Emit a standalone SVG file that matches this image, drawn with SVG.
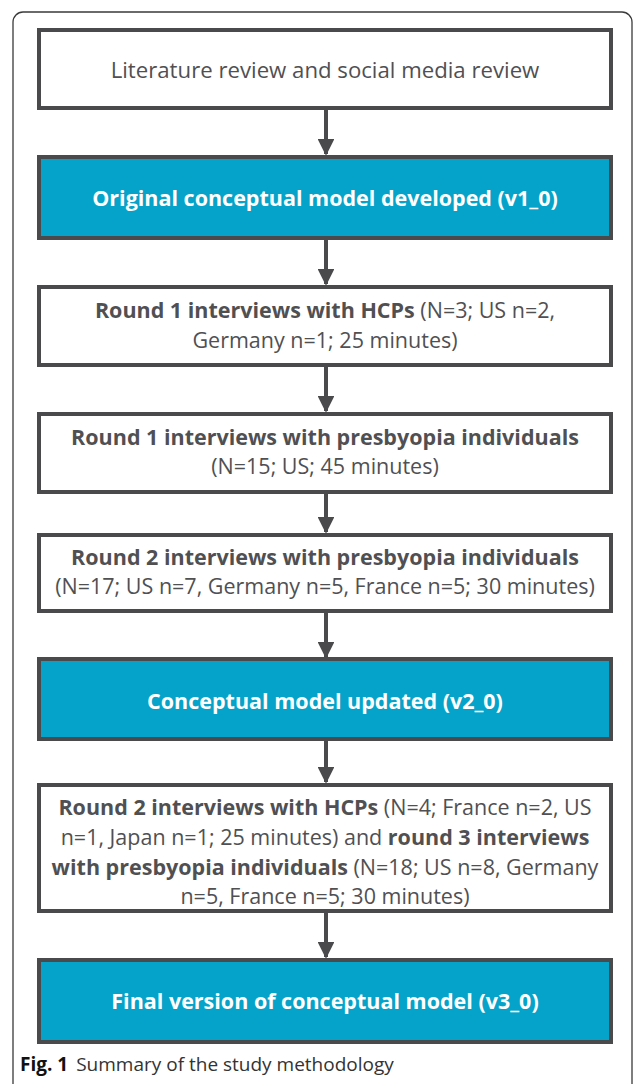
<svg xmlns="http://www.w3.org/2000/svg" width="634" height="1084" viewBox="0 0 634 1084">
<defs>
<style>
.box{fill:#ffffff;stroke:#4a4a4d;stroke-width:4}
.teal{fill:#05a3c9;stroke:#4a4a4d;stroke-width:4}
.t{font-family:"Open Sans","Liberation Sans",sans-serif;font-size:21.5px;fill:#505053;text-anchor:middle}
.w{font-family:"Open Sans","Liberation Sans",sans-serif;font-size:21.5px;fill:#ffffff;font-weight:bold;text-anchor:middle}
.b{font-weight:bold}
.conn{stroke:#4a4a4d;stroke-width:4;fill:none}
.cap{font-family:"Open Sans","Liberation Sans",sans-serif;font-size:19px;fill:#333}
</style>
<marker id="ah" viewBox="0 0 10 10" refX="9" refY="5" markerWidth="4.2" markerHeight="4.2" markerUnits="strokeWidth" orient="auto">
<path d="M0,0 L10,5 L0,10 z" fill="#4a4a4d"/>
</marker>
</defs>
<rect width="634" height="1084" fill="#ffffff"/>
<path d="M13,1084 V22 A10,10 0 0 1 23,12 H622 A10,10 0 0 1 632,22 V1084" fill="none" stroke="#3a3a3a" stroke-width="1.3"/>

<g id="connectors">
<line class="conn" x1="326" y1="110" x2="326" y2="154" marker-end="url(#ah)"/>
<line class="conn" x1="326" y1="240" x2="326" y2="284" marker-end="url(#ah)"/>
<line class="conn" x1="326" y1="367" x2="326" y2="411" marker-end="url(#ah)"/>
<line class="conn" x1="326" y1="494" x2="326" y2="532" marker-end="url(#ah)"/>
<line class="conn" x1="326" y1="613" x2="326" y2="657" marker-end="url(#ah)"/>
<line class="conn" x1="326" y1="741" x2="326" y2="782" marker-end="url(#ah)"/>
<line class="conn" x1="326" y1="913" x2="326" y2="957" marker-end="url(#ah)"/>
</g>

<g id="n1">
<rect class="box" x="39" y="30" width="572" height="78"/>
<text class="t" x="325" y="78" style="font-size:22.2px">Literature review and social media review</text>
</g>
<g id="n2">
<rect class="teal" x="39" y="157" width="572" height="81"/>
<text class="w" x="325" y="206">Original conceptual model developed (v1_0)</text>
</g>
<g id="n3">
<rect class="box" x="39" y="287" width="572" height="78"/>
<text class="t" x="325" y="318"><tspan class="b">Round 1 interviews with HCPs</tspan> (N=3; US n=2,</text>
<text class="t" x="325" y="348">Germany n=1; 25 minutes)</text>
</g>
<g id="n4">
<rect class="box" x="39" y="414" width="572" height="78"/>
<text class="t b" x="325" y="445">Round 1 interviews with presbyopia individuals</text>
<text class="t" x="325" y="474">(N=15; US; 45 minutes)</text>
</g>
<g id="n5">
<rect class="box" x="39" y="535" width="572" height="76"/>
<text class="t b" x="325" y="565">Round 2 interviews with presbyopia individuals</text>
<text class="t" x="325" y="594">(N=17; US n=7, Germany n=5, France n=5; 30 minutes)</text>
</g>
<g id="n6">
<rect class="teal" x="39" y="659" width="572" height="80"/>
<text class="w" x="325" y="709">Conceptual model updated (v2_0)</text>
</g>
<g id="n7">
<rect class="box" x="39" y="785" width="572" height="126"/>
<text class="t" x="325" y="815"><tspan class="b">Round 2 interviews with HCPs</tspan> (N=4; France n=2, US</text>
<text class="t" x="325" y="845">n=1, Japan n=1; 25 minutes) and <tspan class="b">round 3 interviews</tspan></text>
<text class="t" x="325" y="875"><tspan class="b">with presbyopia individuals</tspan> (N=18; US n=8, Germany</text>
<text class="t" x="325" y="904">n=5, France n=5; 30 minutes)</text>
</g>
<g id="n8">
<rect class="teal" x="39" y="960" width="572" height="82"/>
<text class="w" x="325" y="1009">Final version of conceptual model (v3_0)</text>
</g>
<text class="cap" x="20" y="1071"><tspan class="b" fill="#111">Fig. 1</tspan><tspan dx="8">Summary of the study methodology</tspan></text>
</svg>
